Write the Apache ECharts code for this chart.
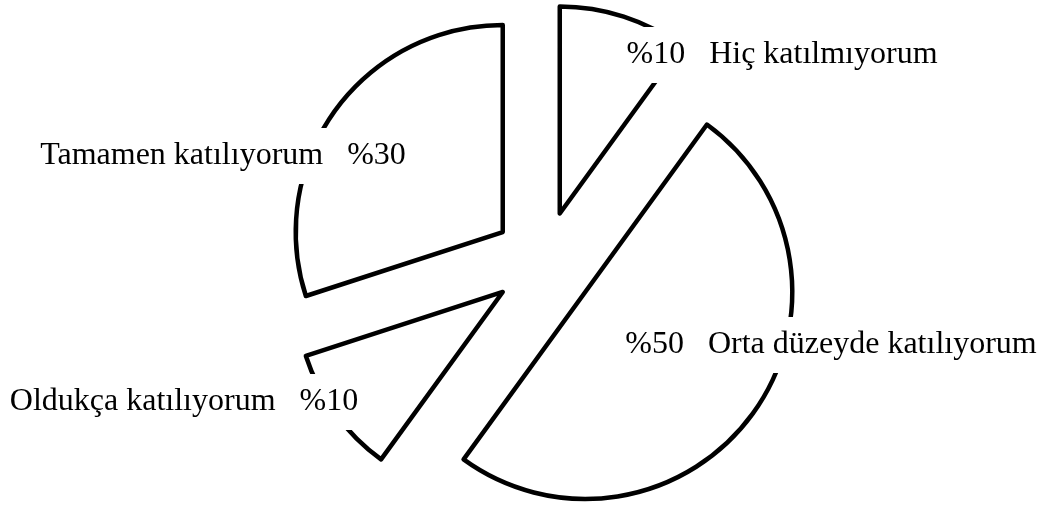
<!DOCTYPE html>
<html>
<head>
<meta charset="utf-8">
<script src="https://cdn.jsdelivr.net/npm/echarts@6/dist/echarts.min.js"></script>
<style>
html,body{margin:0;padding:0;background:#fff;}
#chart{width:1047px;height:507px;}
</style>
</head>
<body>
<div id="chart"></div>
<script>
// Data
var categories = ['Hiç katılmıyorum', 'Orta düzeyde katılıyorum', 'Oldukça katılıyorum', 'Tamamen katılıyorum'];
var values = [10, 50, 10, 30];
var percentFirst = [true, true, false, false];

// Layout (label box centres, pixels)
var labelPos = [[782, 55], [831, 345], [184, 402], [223, 156]];

var chart = echarts.init(document.getElementById('chart'), null, {renderer: 'canvas'});
var data = categories.map(function (c, i) {
  return {name: c, value: values[i], selected: true};
});
function labelText(i) {
  var pct = '%' + values[i];
  return percentFirst[i] ? pct + '   ' + categories[i] : categories[i] + '   ' + pct;
}
var graphics = categories.map(function (c, i) {
  return {
    type: 'text',
    x: labelPos[i][0],
    y: labelPos[i][1],
    z: 100,
    silent: true,
    style: {
      text: labelText(i),
      font: '32px "Liberation Serif"',
      fill: '#000',
      backgroundColor: '#ffffff',
      padding: [12, 8],
      lineHeight: 32,
      align: 'center',
      verticalAlign: 'middle'
    }
  };
});
chart.setOption({
  animation: false,
  backgroundColor: '#ffffff',
  graphic: graphics,
  series: [{
    type: 'pie',
    center: [544, 262],
    radius: 207,
    startAngle: 90,
    clockwise: true,
    selectedMode: 'multiple',
    selectedOffset: 51,
    avoidLabelOverlap: false,
    itemStyle: {color: '#ffffff', borderColor: '#000000', borderWidth: 4.5},
    select: {itemStyle: {color: '#ffffff', borderColor: '#000000', borderWidth: 4.5}},
    emphasis: {disabled: true},
    labelLine: {show: false},
    label: {show: false},
    data: data
  }]
});
</script>
</body>
</html>
